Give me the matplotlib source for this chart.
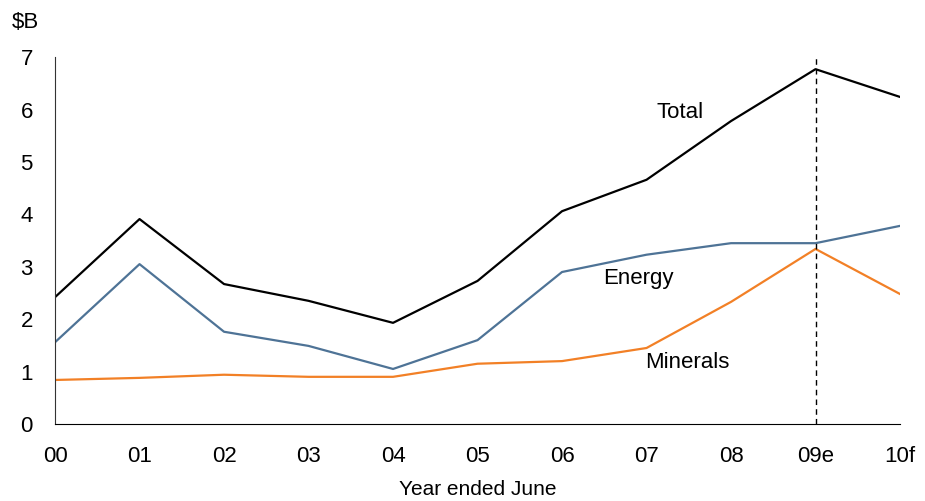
import matplotlib.pyplot as plt

plt.rcParams["font.family"] = ["Liberation Sans", "DejaVu Sans"]

# Data ($B, year ended June)
years = ["00", "01", "02", "03", "04", "05", "06", "07", "08", "09e", "10f"]
total = [2.42, 3.91, 2.67, 2.35, 1.93, 2.73, 4.06, 4.66, 5.78, 6.77, 6.24]
energy = [1.56, 3.05, 1.76, 1.49, 1.05, 1.60, 2.90, 3.23, 3.45, 3.45, 3.78]
minerals = [0.84, 0.88, 0.94, 0.90, 0.90, 1.15, 1.20, 1.45, 2.33, 3.34, 2.48]

fig = plt.figure(figsize=(9.25, 5.01), dpi=100)
ax = fig.add_axes([0.0595, 0.1537, 0.9135, 0.7323])

x = list(range(len(years)))
ax.plot(x, total, color="black", linewidth=1.6)
ax.plot(x, energy, color="#4e7396", linewidth=1.6)
ax.plot(x, minerals, color="#f28026", linewidth=1.6)
ax.axvline(9, ymin=0, ymax=1, color="black", linestyle=(0, (4, 3)), linewidth=1)

ax.text(7.4, 5.95, "Total", fontsize=16, ha="center", va="center")
ax.text(6.9, 2.77, "Energy", fontsize=16, ha="center", va="center")
ax.text(7.48, 1.17, "Minerals", fontsize=16, ha="center", va="center")

ax.set_xlim(0, 10)
ax.set_ylim(0, 7)
ax.set_xticks(x)
ax.set_xticklabels(years)
ax.set_yticks(range(8))
ax.tick_params(length=0, labelsize=16)
ax.tick_params(axis="x", pad=16)
ax.tick_params(axis="y", pad=16)
for side in ["top", "right"]:
    ax.spines[side].set_visible(False)
ax.spines["left"].set_color("#333333")

ax.set_xlabel("Year ended June", fontsize=15, labelpad=9)
fig.text(0.013, 0.955, "$B", fontsize=16, ha="left", va="center")

plt.savefig("out.png", dpi=100)
